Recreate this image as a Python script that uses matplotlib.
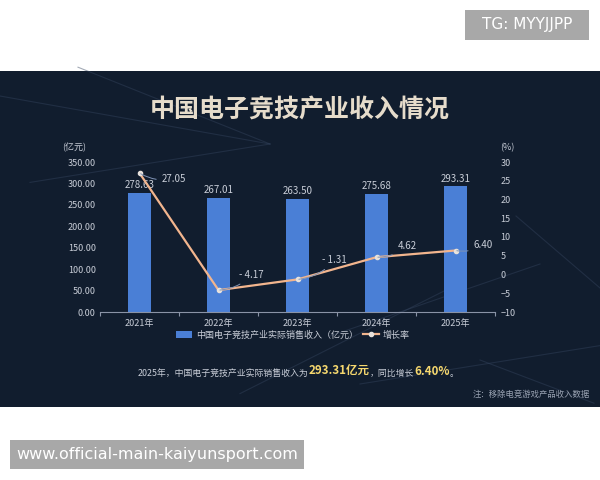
import matplotlib.pyplot as plt
from matplotlib.patches import Rectangle
from matplotlib.lines import Line2D

plt.rcParams['font.family'] = ['Noto Sans CJK SC', 'DejaVu Sans']

# Data
years = ['2021年', '2022年', '2023年', '2024年', '2025年']
revenue = [278.63, 267.01, 263.50, 275.68, 293.31]
growth = [27.05, -4.17, -1.31, 4.62, 6.40]
rev_ticks = [0, 50, 100, 150, 200, 250, 300, 350]
pct_ticks = [-10, -5, 0, 5, 10, 15, 20, 25, 30]
# label offsets for growth labels (points)
growth_offsets = [(16, -4), (15, 11), (18, 14), (15, 8), (13, 4)]

bg = '#111d2e'
txt = '#c9ced8'

fig = plt.figure(figsize=(6, 4.8), dpi=100)
fig.patch.set_facecolor('white')


def px_rect(x0, y0, x1, y1, color, z):
    # rectangle given in pixel coords from the top-left corner
    fig.patches.append(Rectangle((x0 / 600, 1 - y1 / 480), (x1 - x0) / 600, (y1 - y0) / 480,
                                 transform=fig.transFigure, facecolor=color,
                                 edgecolor='none', zorder=z))


# dark panel
px_rect(0, 71, 600, 407, bg, -2)
# faint decorative lines
for (x0, y0, x1, y1) in [(0.0, 0.80, 0.45, 0.70), (0.13, 0.86, 0.45, 0.70), (0.45, 0.70, 0.05, 0.62),
                         (0.86, 0.55, 1.0, 0.40), (0.55, 0.30, 0.90, 0.45), (0.80, 0.25, 0.99, 0.16),
                         (0.40, 0.18, 0.75, 0.40), (0.60, 0.20, 1.0, 0.28)]:
    fig.add_artist(Line2D([x0, x1], [y0, y1], transform=fig.transFigure,
                          color='#34445e', lw=0.8, alpha=0.45, zorder=-1))

fig.text(0.5, 1 - 110 / 480, '中国电子竞技产业收入情况', ha='center', va='center',
         fontsize=18, fontweight='bold', color='#e6dccb')

ax = fig.add_axes([100 / 600, 1 - 312 / 480, 395 / 600, 150 / 480])
ax.set_facecolor('none')
x = range(len(years))
bars = ax.bar(x, revenue, width=0.28, color='#4a7fd6', zorder=2,
              label='中国电子竞技产业实际销售收入（亿元）')
for xi, v in zip(x, revenue):
    ax.text(xi, v + 6, f'{v:.2f}', ha='center', va='bottom', fontsize=7, color=txt)
ax.set_ylim(0, 350)
ax.set_xlim(-0.5, 4.5)
ax.set_yticks(rev_ticks)
ax.set_yticklabels([f'{t:.2f}' for t in rev_ticks])
ax.set_xticks([i - 0.5 for i in range(6)])
ax.set_xticklabels([])
ax.set_xticks(list(x), minor=True)
ax.set_xticklabels(years, minor=True)
ax.tick_params(axis='x', which='major', length=3, color='#8a93a6', width=0.8)
ax.tick_params(axis='x', which='minor', length=0, labelsize=6.5, labelcolor=txt, pad=5)
ax.tick_params(axis='y', length=0, labelsize=6.5, labelcolor=txt, pad=3)
for s in ['top', 'right', 'left']:
    ax.spines[s].set_visible(False)
ax.spines['bottom'].set_color('#8a93a6')
ax.text(-0.065, 1.08, '(亿元)', transform=ax.transAxes, fontsize=6.5, color=txt, ha='center')

ax2 = ax.twinx()
line, = ax2.plot(x, growth, color='#f2b58e', lw=1.6, marker='o', markersize=3,
                 markerfacecolor='#e8e2dc', markeredgecolor='#e8e2dc', zorder=3, label='增长率')
for xi, g, off in zip(x, growth, growth_offsets):
    lab = f'{g:.2f}' if g >= 0 else f'- {abs(g):.2f}'
    ax2.annotate(lab, (xi, g), xytext=off, textcoords='offset points', fontsize=7,
                 color=txt, va='center', ha='left',
                 arrowprops=dict(arrowstyle='-', color='#7f93b5', lw=0.7, shrinkA=2, shrinkB=1,
                                 connectionstyle='arc3,rad=-0.2'))
ax2.set_ylim(-10, 30)
ax2.set_yticks(pct_ticks)
ax2.tick_params(axis='y', length=0, labelsize=6.5, labelcolor=txt, pad=4)
for s in ['top', 'right', 'left', 'bottom']:
    ax2.spines[s].set_visible(False)
ax2.text(1.03, 1.08, '(%)', transform=ax2.transAxes, fontsize=6.5, color=txt, ha='center')

fig.legend(handles=[bars, line], loc='center', bbox_to_anchor=(293 / 600, 1 - 335 / 480),
           ncol=2, frameon=False, fontsize=6.5, labelcolor=txt, handlelength=1.8,
           handleheight=0.7, columnspacing=0.6, handletextpad=0.4)

# summary sentence, pieces chained one after another
pieces = [('2025年，中国电子竞技产业实际销售收入为', '#c9ced8', 6.4, 'normal'),
          ('293.31亿元', '#f5d76e', 8.3, 'bold'),
          ('，同比增长', '#c9ced8', 6.4, 'normal'),
          ('6.40%', '#f5d76e', 8.3, 'bold'),
          ('。', '#c9ced8', 6.4, 'normal')]
anchor = fig.text(138 / 600, 1 - 378 / 480, pieces[0][0], color=pieces[0][1],
                  fontsize=pieces[0][2], fontweight=pieces[0][3], va='bottom')
for s, c, fs, fw in pieces[1:]:
    anchor = ax2.annotate(s, xy=(1, 0), xycoords=anchor, xytext=(0, 0),
                          textcoords='offset points', color=c, fontsize=fs, fontweight=fw,
                          va='bottom', ha='left', annotation_clip=False)

fig.text(590 / 600, 1 - 394 / 480, '注：移除电竞游戏产品收入数据', ha='right', va='center',
         fontsize=6, color='#9aa3b3')

# watermark boxes
px_rect(465, 10, 589, 40, '#a8a8a8', 1)
fig.text(527 / 600, 1 - 25 / 480, 'TG: MYYJJPP', ha='center', va='center', fontsize=11,
         color='white', family='DejaVu Sans', zorder=2)
px_rect(10, 440, 304, 469, '#a8a8a8', 1)
fig.text(157 / 600, 1 - 455 / 480, 'www.official-main-kaiyunsport.com', ha='center',
         va='center', fontsize=11.5, color='white', family='DejaVu Sans', zorder=2)

fig.savefig('out.png', dpi=100, facecolor='white')
